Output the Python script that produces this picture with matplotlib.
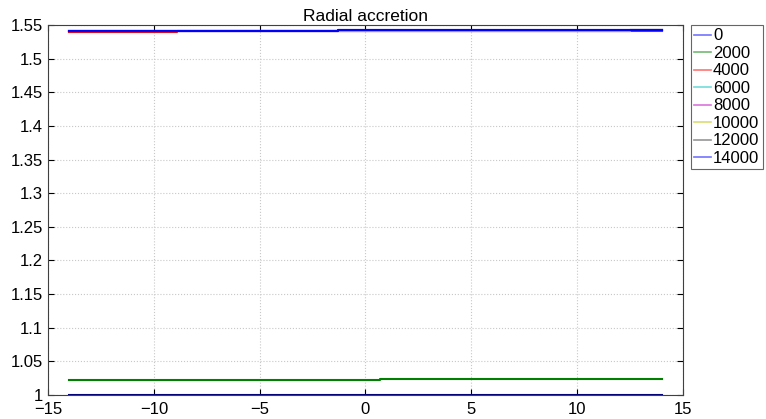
import matplotlib
matplotlib.use('Agg')
import matplotlib.pyplot as plt
from matplotlib.ticker import FuncFormatter

plt.rcParams['font.family'] = ['Liberation Sans', 'DejaVu Sans']

# --- data ---
x = [-14, -8.9, -1.3, 0.7, 12.5, 14]
labels = ['0', '2000', '4000', '6000', '8000', '10000', '12000', '14000']
series = [
    [1.0, 1.0, 1.0, 1.0, 1.0, 1.0],
    [1.0222, 1.0222, 1.0222, 1.0235, 1.0235, 1.0235],
    [1.5401, 1.5412, 1.5412, 1.5412, 1.5418, 1.5418],
    [1.5408, 1.5412, 1.5416, 1.5416, 1.5425, 1.5425],
    [1.5409, 1.5412, 1.5417, 1.5417, 1.5427, 1.5427],
    [1.5410, 1.5412, 1.5418, 1.5418, 1.5429, 1.5429],
    [1.5411, 1.5412, 1.5419, 1.5419, 1.5431, 1.5431],
    [1.5412, 1.5412, 1.5420, 1.5420, 1.5432, 1.5432],
]
colors = ['#0000ff', '#008000', '#ff0000', '#00bfbf',
          '#bf00bf', '#bfbf00', '#404040', '#0000ff']
line_colors = ['#00007f'] + colors[1:]

fig = plt.figure(figsize=(7.66, 4.19), dpi=100)
ax = fig.add_axes([0.0627, 0.0573, 0.8289, 0.883])

for vals, lab, c, lc in zip(series, labels, colors, line_colors):
    ax.plot(x, vals, drawstyle='steps-post', color=lc, linewidth=1.5, label=lab)

ax.set_xlim(-15, 15)
ax.set_ylim(1, 1.55)
ax.set_xticks(range(-15, 16, 5))
ax.set_yticks([1 + 0.05 * i for i in range(12)])
ax.yaxis.set_major_formatter(FuncFormatter(lambda v, p: '%g' % round(v, 2)))
ax.xaxis.set_major_formatter(FuncFormatter(lambda v, p: ('%g' % v).replace('-', '\u2212')))
ax.tick_params(direction='in', labelsize=12, length=4, top=True, right=True)
ax.tick_params(axis='x', pad=5)
ax.grid(True, linestyle=':', color='#c8c8c8', linewidth=0.8)
for s in ax.spines.values():
    s.set_color('#404040')
    s.set_linewidth(0.8)
ax.set_title('Radial accretion', fontsize=12.5, pad=3)

leg = ax.legend(loc='upper left', bbox_to_anchor=(1.012, 1.0), fontsize=12,
                frameon=True, fancybox=False, edgecolor='#404040',
                handlelength=1.0, handletextpad=0.15, labelspacing=0.15,
                borderpad=0.2, borderaxespad=0)
for h, c in zip(leg.get_lines(), colors):
    h.set_color(c)
    h.set_alpha(0.55)
    h.set_linewidth(1.2)
leg.get_frame().set_linewidth(0.8)

fig.savefig('out.png', dpi=100)
